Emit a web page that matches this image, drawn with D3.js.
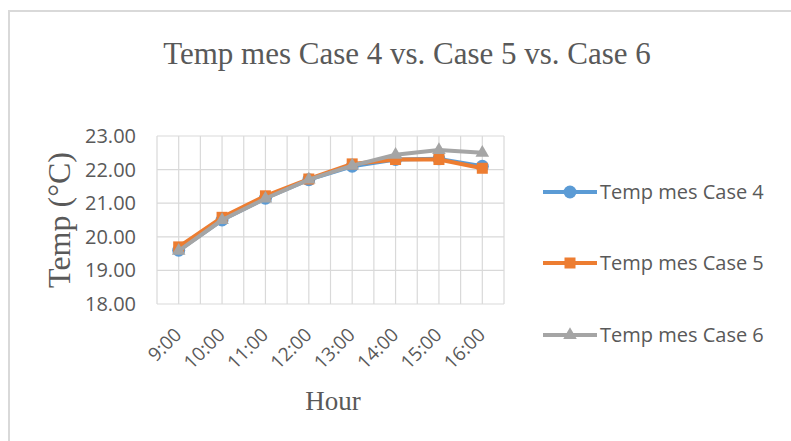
<!DOCTYPE html>
<html>
<head>
<meta charset="utf-8">
<script src="https://cdn.jsdelivr.net/npm/d3@7"></script>
<style>
  body { margin: 0; background: #fff; }
  svg { display: block; }
</style>
</head>
<body>
<svg id="chart" width="791" height="441"></svg>
<script>
// data
var hours = ["9:00", "10:00", "11:00", "12:00", "13:00", "14:00", "15:00", "16:00"];
var case4 = [19.60, 20.50, 21.15, 21.70, 22.10, 22.30, 22.32, 22.10];
var case5 = [19.70, 20.58, 21.22, 21.72, 22.17, 22.30, 22.30, 22.04];
var case6 = [19.58, 20.50, 21.14, 21.70, 22.12, 22.44, 22.58, 22.50];
var yTicks = [18, 19, 20, 21, 22, 23];
var seriesNames = ["Temp mes Case 4", "Temp mes Case 5", "Temp mes Case 6"];
var seriesColors = ["#5B9BD5", "#ED7D31", "#A5A5A5"];
var seriesMarkers = ["circle", "square", "triangle"];

var svg = d3.select("#chart");

// outer chart frame (only top and left visible in the picture)
svg.append("rect")
    .attr("x", 9).attr("y", 11)
    .attr("width", 800).attr("height", 450)
    .style("fill", "#fff")
    .style("stroke", "#d9d9d9")
    .style("stroke-width", 2);

var plotL = 157, plotR = 504, plotT = 136, plotB = 304;

var x = d3.scaleBand().domain(hours).range([plotL, plotR]);
var y = d3.scaleLinear().domain([18, 23]).range([plotB, plotT]);

// vertical gridlines: band edges plus band centres
var vLines = [];
hours.forEach(function(h) {
    vLines.push(x(h));
    vLines.push(x(h) + x.bandwidth() / 2);
});
vLines.push(plotR);

svg.append("g").selectAll("line")
    .data(vLines).enter().append("line")
    .attr("x1", function(d) { return d; })
    .attr("x2", function(d) { return d; })
    .attr("y1", plotT).attr("y2", plotB)
    .style("stroke", "#d9d9d9").style("stroke-width", 1.2);

svg.append("g").selectAll("line")
    .data(yTicks).enter().append("line")
    .attr("x1", plotL).attr("x2", plotR)
    .attr("y1", function(d) { return y(d); })
    .attr("y2", function(d) { return y(d); })
    .style("stroke", "#d9d9d9").style("stroke-width", 1.2);

// y tick labels
svg.append("g").selectAll("text")
    .data(yTicks).enter().append("text")
    .attr("x", 136)
    .attr("y", function(d) { return y(d); })
    .attr("dy", "0.35em")
    .attr("text-anchor", "end")
    .style("font-family", "Open Sans")
    .style("font-size", "20px")
    .style("fill", "#595959")
    .text(function(d) { return d.toFixed(2); });

// x tick labels, rotated
svg.append("g").selectAll("text")
    .data(hours).enter().append("text")
    .attr("transform", function(d) {
        var cx = x(d) + x.bandwidth() / 2;
        return "translate(" + (cx + 4) + "," + 336 + ") rotate(-45)";
    })
    .attr("text-anchor", "end")
    .style("font-family", "Open Sans")
    .style("font-size", "19px")
    .style("fill", "#595959")
    .text(function(d) { return d; });

// title and axis titles
svg.append("text")
    .attr("x", 407).attr("y", 64)
    .attr("text-anchor", "middle")
    .style("font-family", "Liberation Serif")
    .style("font-size", "31px")
    .style("fill", "#595959")
    .text("Temp mes Case 4 vs. Case 5 vs. Case 6");

svg.append("text")
    .attr("x", 333).attr("y", 410)
    .attr("text-anchor", "middle")
    .style("font-family", "Liberation Serif")
    .style("font-size", "27px")
    .style("fill", "#595959")
    .text("Hour");

svg.append("text")
    .attr("transform", "translate(70,220) rotate(-90)")
    .attr("text-anchor", "middle")
    .style("font-family", "Liberation Serif")
    .style("font-size", "32px")
    .style("fill", "#595959")
    .text("Temp (°C)");

// series
var allSeries = [case4, case5, case6];
var line = d3.line()
    .x(function(d, i) { return x(hours[i]) + x.bandwidth() / 2; })
    .y(function(d) { return y(d); });

function drawMarker(g, type, color, cx, cy) {
    if (type == "circle") {
        g.append("circle").attr("cx", cx).attr("cy", cy).attr("r", 6.5)
            .style("fill", color);
    } else if (type == "square") {
        g.append("rect").attr("x", cx - 5.5).attr("y", cy - 5.5)
            .attr("width", 11).attr("height", 11)
            .style("fill", color);
    } else {
        g.append("path")
            .attr("d", d3.symbol().type(d3.symbolTriangle).size(80)())
            .attr("transform", "translate(" + cx + "," + cy + ")")
            .style("fill", color);
    }
}

allSeries.forEach(function(vals, s) {
    var g = svg.append("g");
    g.append("path")
        .datum(vals)
        .attr("d", line)
        .style("fill", "none")
        .style("stroke", seriesColors[s])
        .style("stroke-width", 4)
        .style("stroke-linejoin", "round");
    vals.forEach(function(v, i) {
        drawMarker(g, seriesMarkers[s], seriesColors[s],
            x(hours[i]) + x.bandwidth() / 2, y(v));
    });
});

// legend
var legY = [192, 263, 335];
seriesNames.forEach(function(name, s) {
    var g = svg.append("g");
    g.append("line")
        .attr("x1", 543).attr("x2", 597)
        .attr("y1", legY[s]).attr("y2", legY[s])
        .style("stroke", seriesColors[s])
        .style("stroke-width", 4);
    drawMarker(g, seriesMarkers[s], seriesColors[s], 570, legY[s]);
    g.append("text")
        .attr("x", 600).attr("y", legY[s])
        .attr("dy", "0.35em")
        .style("font-family", "Open Sans")
        .style("font-size", "20px")
        .style("fill", "#595959")
        .text(name);
});
</script>
</body>
</html>
